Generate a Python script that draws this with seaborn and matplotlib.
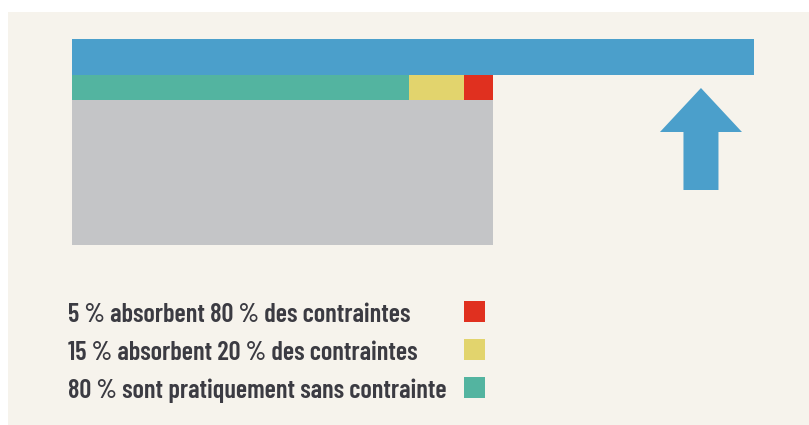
import matplotlib
matplotlib.use("Agg")
import matplotlib.pyplot as plt
from matplotlib.patches import Rectangle, FancyArrow
import seaborn as sns

# ---- data ----
segment_widths = [80, 13, 7]          # stacked row (population share, as drawn)
total_constraints = 162               # long blue bar
population_total = 100                # grey block
legend_labels = ["5 % absorbent 80 % des contraintes",
                 "15 % absorbent 20 % des contraintes",
                 "80 % sont pratiquement sans contrainte"]

# ---- style ----
BG = "#f6f3ec"
BLUE = "#4b9fcb"
GREEN = "#53b4a0"
YELLOW = "#e2d46d"
RED = "#e0301f"
GREY = "#c4c5c7"
TXT = "#3b3b42"
seg_colors = [GREEN, YELLOW, RED]
legend_colors = [RED, YELLOW, GREEN]

sns.set_theme(style="white")
plt.rcParams["font.family"] = ["Barlow Condensed", "DejaVu Sans"]

W, H, DPI = 809, 425, 100
fig = plt.figure(figsize=(W / DPI, H / DPI), dpi=DPI, facecolor="white")
ax = fig.add_axes([0, 0, 1, 1])
ax.set_facecolor("white")

PX = 4.21  # pixels per data unit on x
x0 = 72
ax.set_xlim(-x0 / PX, (W - x0) / PX)
ax.set_ylim(H, 0)  # y in pixel rows
ax.axis("off")

# beige panel
ax.add_patch(Rectangle((8 / W, 0), 1 - 8 / W, 1 - 12 / H,
                       transform=ax.transAxes, facecolor=BG,
                       edgecolor="none", zorder=0))

# blue bar
ax.barh(57, total_constraints, height=36, left=0, color=BLUE,
        edgecolor="none", zorder=2)

# stacked row
left = 0
for w, c in zip(segment_widths, seg_colors):
    ax.barh(87.5, w, height=25, left=left, color=c, edgecolor="none", zorder=2)
    left += w

# grey block
ax.barh(172.5, population_total, height=145, left=0, color=GREY,
        edgecolor="none", zorder=2)

# arrow
ax.add_patch(FancyArrow(149.4, 190, 0, -102, width=35 / PX, head_width=82 / PX,
                        head_length=44, length_includes_head=True,
                        color=BLUE, linewidth=0, zorder=2))

# legend text + squares
ys = [312, 350, 388]
texts = []
for y, lab, c in zip(ys, legend_labels, legend_colors):
    t = ax.text(-4 / PX, y, lab, ha="left", va="center_baseline", fontsize=18,
                color=TXT, fontweight="semibold", zorder=3)
    texts.append(t)
    ax.add_patch(Rectangle(((464 - x0) / PX, y - 11), 21 / PX, 21,
                           facecolor=c, edgecolor="none", zorder=3))

# fit the longest label to its measured width in the reference (379 px)
fig.canvas.draw()
r = fig.canvas.get_renderer()
wpx = texts[2].get_window_extent(r).width
fs = 18 * 379 / wpx
for t in texts:
    t.set_fontsize(fs)

fig.savefig("out.png", dpi=DPI, facecolor="white")
